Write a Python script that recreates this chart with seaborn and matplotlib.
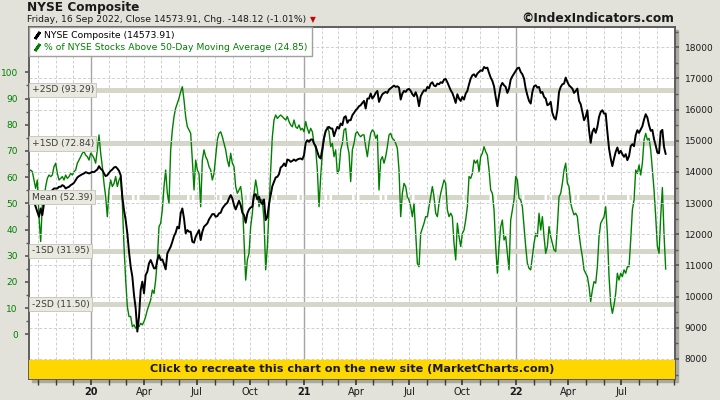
import pandas as pd
import matplotlib
matplotlib.use("Agg")
import matplotlib.pyplot as plt
import matplotlib.dates as mdates
import matplotlib.transforms as mtransforms
from matplotlib.lines import Line2D
from matplotlib.patches import Rectangle
from matplotlib.ticker import MultipleLocator, FixedLocator
import seaborn as sns

sns.set_theme(style="white")
plt.rcParams['font.family'] = ['DejaVu Sans']

# ---------------------------
# data
# ---------------------------
start_date = "2019-09-16"
end_date = "2022-09-16"

nyse_close = [
    13204, 13098, 13151, 13044, 12884, 12724, 12563, 12830, 12617, 12991,
    13098, 13204, 13364, 13364, 13418, 13471, 13471, 13471, 13525, 13525,
    13578, 13546, 13471, 13503, 13525, 13578, 13610, 13653, 13738, 13824,
    13866, 13898, 13930, 13952, 13994, 13973, 13952, 13973, 14005, 13994,
    14037, 14080, 14187, 14101, 14058, 13952, 13866, 13898, 13973, 14037,
    14080, 14144, 14165, 14112, 14037, 13898, 13204, 12777, 12457, 12030,
    11442, 10961, 10641, 10054, 9626, 8879, 9359, 10214, 10481, 10107,
    10695, 10801, 11068, 11175, 11047, 10908, 10908, 11175, 11335, 11175,
    11196, 11047, 10876, 11389, 11495, 11602, 11762, 11944, 12051, 12243,
    12190, 12670, 12830, 12510, 12030, 12136, 12083, 12083, 11762, 11730,
    11922, 12030, 12136,
    11816, 12083, 12243, 12296, 12350, 12478, 12563, 12649, 12649, 12563,
    12585, 12670, 12692, 12830, 12905, 12969, 13012, 13151, 13258, 13151,
    12937, 12798, 12937, 13076, 12937, 12692, 12617, 12371, 12670, 12798,
    12862, 12884, 13258, 13290, 13119, 13204, 13044, 12969, 13119, 12457,
    12563, 12969, 13258, 13546, 13685, 13824, 13845, 13930,
    14144, 14187, 14272, 14187, 14400, 14379, 14325, 14357, 14400, 14357,
    14400, 14422, 14432, 14400, 14539, 14934, 15020, 14966, 15041, 15041,
    14913, 14827, 14646, 14486, 14432, 14753, 15105, 15319, 15394, 15447,
    15394, 15394, 15148, 15319, 15447, 15394, 15554, 15500, 15746, 15789,
    15575, 15661, 15661, 15821, 15896, 15981, 16034, 16109, 16141, 16216,
    16280, 16034, 16355, 16355, 16515, 16355, 16430, 16536, 16600, 16248,
    16387, 16494, 16536, 16568, 16536, 16643, 16686, 16728, 16771, 16728,
    16750, 16707, 16323, 16515, 16600, 16568, 16643, 16664, 16600, 16494,
    16430, 16558, 16408, 16109, 16430, 16536, 16622, 16600, 16728, 16686,
    16835, 16878, 16771, 16750, 16835, 16814, 16878, 16857, 16964, 16985,
    16878, 16750, 16622, 16536, 16387, 16216, 16494, 16355, 16280, 16408,
    16323, 16515, 16600, 16814,
    16996, 17102, 17134, 17049, 17156, 17209, 17263, 17241, 17369, 17327,
    17348, 17177, 17028, 16921, 16750, 16408, 16109, 16462, 16750, 16857,
    16782, 16728, 16536, 16675, 16964, 17070, 17156, 17241, 17327, 17348,
    17209, 17134, 16996, 16675, 16462, 16280, 16195, 16568, 16750, 16782,
    16707, 16728, 16536, 16568, 16408, 16355, 16141, 16173, 16248, 15896,
    15746, 15682, 15981, 16568, 16728, 16814, 16835, 17028, 16889, 16782,
    16728, 16675, 16536, 16600, 16675, 16280, 16173, 15927, 15661, 15767,
    15981, 15340, 14934, 15287, 15394, 15255, 15447, 15767, 15927, 15981,
    15874, 15874, 15287, 14753, 14432, 14187, 14432, 14646, 14785, 14593,
    14678, 14571, 14486, 14571, 14379, 14507, 14827, 14892, 14827, 15180,
    15340, 15255, 15362, 15468, 15682, 15853, 15746, 15500, 15319, 15350,
    15050, 14850, 14620, 14600,
    15300, 15350, 14800, 14573.91,
]

pct_above_50dma = [
    62.1, 62.7, 62.1, 58.9, 55.7, 58.9, 44.9, 35.4, 50.0, 51.3,
    56.4, 59.5, 60.8, 60.2, 60.8, 64.0, 65.3, 61.4, 58.9, 59.5,
    60.2, 58.9, 60.8, 59.5, 60.2, 61.4, 60.8, 62.1, 62.7, 65.3,
    66.5, 67.8, 69.1, 69.7, 68.4, 67.8, 66.5, 69.1, 68.4, 67.2,
    65.3, 70.4, 76.1, 69.1, 64.0, 57.6, 52.5, 44.9, 55.1, 58.9,
    56.4, 57.6, 60.2, 56.4, 58.9, 60.2, 50.0, 33.5, 20.7, 10.6,
    6.8, 6.8, 2.9, 3.6, 2.3, 2.9, 2.9, 4.2, 3.6, 4.9,
    6.8, 9.3, 11.2, 13.1, 16.9, 15.6, 20.7, 28.4, 41.1, 42.4,
    47.5, 56.4, 62.7, 53.8, 50.0, 70.4, 78.0, 83.1, 86.3, 88.2,
    90.1, 92.6, 94.5, 89.4, 83.1, 79.2, 78.0, 76.7, 66.5, 55.1,
    66.5, 62.7, 61.4,
    48.7, 66.5, 70.4, 67.8, 66.5, 64.0, 62.7, 58.9, 61.4, 67.8,
    74.2, 76.7, 77.3, 75.4, 72.9, 70.4, 66.5, 64.0, 69.1, 65.3,
    64.0, 56.4, 53.8, 55.1, 56.4, 51.3, 36.0, 20.7, 28.4, 30.9,
    41.1, 46.2, 53.8, 58.9, 55.1, 48.7, 51.3, 51.3, 43.6, 24.6,
    33.5, 47.5, 62.7, 75.4, 81.8, 83.7, 82.4, 83.1,
    83.7, 83.1, 82.4, 81.8, 83.1, 81.2, 79.9, 79.2, 81.8, 79.2,
    78.6, 79.9, 78.0, 78.6, 77.3, 81.2, 78.6, 76.7, 78.6, 77.3,
    72.9, 71.0, 62.7, 48.7, 60.2, 69.1, 74.2, 77.3, 79.2, 77.3,
    71.6, 72.9, 67.8, 70.4, 61.4, 62.7, 70.4, 72.9, 78.0, 78.6,
    72.3, 69.1, 58.3, 70.4, 72.9, 76.7, 77.3, 76.1, 75.4, 76.1,
    76.1, 71.6, 67.8, 72.9, 76.7, 78.0, 77.3, 74.8, 76.1, 55.1,
    66.5, 67.8, 65.3, 67.8, 71.6, 76.1, 76.7, 74.8, 74.2, 72.9,
    71.0, 62.7, 44.9, 53.8, 57.6, 56.4, 52.5, 51.3, 48.7, 44.9,
    50.0, 38.5, 27.1, 25.8, 38.5, 40.5, 42.4, 44.9, 44.9, 48.7,
    52.5, 56.4, 52.5, 46.2, 44.9, 50.0, 53.8, 56.4, 58.9, 57.6,
    47.5, 44.9, 46.2, 44.9, 34.7, 28.4, 42.4, 37.3, 33.5, 38.5,
    39.8, 43.6, 48.7, 60.2,
    59.5, 61.4, 66.5, 65.3, 66.5, 62.1, 67.8, 69.1, 71.6, 69.7,
    68.4, 62.7, 55.1, 53.8, 47.5, 33.5, 23.3, 33.5, 41.1, 43.6,
    36.0, 37.3, 30.9, 24.6, 43.6, 47.5, 51.3, 60.2, 58.9, 51.9,
    51.3, 48.7, 41.1, 33.5, 27.1, 25.2, 24.6, 29.6, 34.7, 38.5,
    37.3, 46.2, 39.8, 44.9, 37.3, 30.9, 33.5, 41.1, 37.3, 34.7,
    32.2, 31.6, 41.1, 52.5, 53.8, 57.6, 62.7, 65.3, 57.6, 56.4,
    50.0, 47.5, 45.6, 46.2, 44.9, 38.5, 33.5, 29.6, 24.6, 23.3,
    22.0, 18.2, 12.5, 16.9, 20.1, 19.5, 25.8, 37.3, 42.4, 43.6,
    44.9, 48.7, 38.5, 22.0, 11.8, 8.0, 11.2, 15.6, 23.3, 20.7,
    23.3, 22.0, 24.6, 23.3, 25.8, 25.8, 36.0, 47.5, 51.3, 62.7,
    61.4, 64.6, 60.8, 65.3, 74.2, 76.7, 74.2, 74.8, 70.4, 62.7,
    55.1, 44.9, 33.5, 30.9,
    45.0, 56.0, 38.0, 24.85,
]

band_values = [93.29, 72.84, 52.39, 31.95, 11.50]
band_labels = ["+2SD (93.29)", "+1SD (72.84)", "Mean (52.39)", "-1SD (31.95)", "-2SD (11.50)"]

quarter_ticks = ["2020-01-01", "2020-04-01", "2020-07-01", "2020-10-01",
                 "2021-01-01", "2021-04-01", "2021-07-01", "2021-10-01",
                 "2022-01-01", "2022-04-01", "2022-07-01"]
quarter_labels = ["20", "Apr", "Jul", "Oct", "21", "Apr", "Jul", "Oct", "22", "Apr", "Jul"]

df = pd.DataFrame({
    "date": pd.date_range(start_date, end_date, periods=len(nyse_close)),
    "nyse": nyse_close,
    "pct": pct_above_50dma,
})

# ---------------------------
# figure
# ---------------------------
fig = plt.figure(figsize=(7.2, 4.0), dpi=100, facecolor="#e2e2da")
ax = fig.add_axes([29 / 720, 21 / 400, 646 / 720, 352 / 400])
ax.set_facecolor("white")
ax2 = ax.twinx()

# drop shadow of the plot frame
fig.patches.append(Rectangle((32 / 720, 18 / 400), 646 / 720, 352 / 400,
                             transform=fig.transFigure, color="#a9a9a1", zorder=-1))

sns.lineplot(data=df, x="date", y="pct", ax=ax, color="#008000", lw=1.0, zorder=3)
sns.lineplot(data=df, x="date", y="nyse", ax=ax2, color="black", lw=1.4, zorder=3)

ax.set_xlim(pd.Timestamp("2019-09-16"), pd.Timestamp("2022-10-02"))
ax.set_ylim(-17.06, 117.29)
ax2.set_ylim(7358, 18651)
for a in (ax, ax2):
    a.set_xlabel("")
    a.set_ylabel("")

# SD bands
band_tr = mtransforms.blended_transform_factory(ax.transAxes, ax.transData)
for v, lab in zip(band_values, band_labels):
    if lab.startswith("Mean"):
        ax.axhline(v, color="#d6d6cb", lw=3.6, dashes=(4, 0.5, 0.5, 0.5), zorder=1)
    else:
        ax.axhline(v, color="#d6d6cb", lw=3.6, zorder=1)
    ax2.text(0.004, v, lab, transform=band_tr, ha="left", va="center",
             fontsize=6.6, color="#3c3c3c", zorder=6,
             bbox=dict(boxstyle="square,pad=0.28", fc="#e9e9df", ec="#c4c4bc", lw=0.6))

# grid: months dashed, years solid, NYSE levels dashed
ax.set_axisbelow(True)
ax.set_xticks(pd.to_datetime(quarter_ticks), quarter_labels)
ax.xaxis.set_minor_locator(mdates.MonthLocator())
ax.grid(True, axis="x", which="both", ls=(0, (3, 2)), color="#cfcfcf", lw=0.7)
for t, lab in zip(quarter_ticks, quarter_labels):
    if lab.isdigit():
        ax.axvline(pd.Timestamp(t), color="#a5a5a5", lw=1.0, zorder=0.8)
ax2.yaxis.set_major_locator(MultipleLocator(1000))
ax2.yaxis.set_minor_locator(MultipleLocator(500))
ax2.grid(True, axis="y", which="major", ls=(0, (3, 2)), color="#cfcfcf", lw=0.7)
ax2.set_axisbelow(True)

# ticks
ax.yaxis.set_major_locator(FixedLocator(list(range(0, 101, 10))))
ax.yaxis.set_minor_locator(FixedLocator(list(range(5, 100, 10))))
ax.tick_params(axis="y", which="both", left=True, direction="out", color="#5a5a5a",
               labelcolor="#008000", labelsize=6.5, pad=5)
ax.tick_params(axis="y", which="major", length=3)
ax.tick_params(axis="y", which="minor", length=2)
ax.tick_params(axis="x", which="both", bottom=True, direction="out", length=4,
               color="#3a3a3a", labelsize=7, pad=2, labelcolor="#1a1a1a")
for t in ax.get_xticklabels():
    if t.get_text().isdigit():
        t.set_fontweight("bold")
ax2.tick_params(axis="y", which="both", right=True, direction="out", color="#5a5a5a",
                labelsize=6.5, labelcolor="#1a1a1a", pad=4)
ax2.tick_params(axis="y", which="major", length=3)
ax2.tick_params(axis="y", which="minor", length=2)

for a in (ax, ax2):
    for s in a.spines.values():
        s.set_color("#5a5a5a")
        s.set_linewidth(1.1)

# yellow banner
ax2.add_patch(Rectangle((0, 0), 1, 19 / 352, transform=ax2.transAxes,
                        color="#ffd700", zorder=8))
ax2.text(0.5, 9.5 / 352, "Click to recreate this chart on the new site (MarketCharts.com)",
         transform=ax2.transAxes, ha="center", va="center", fontsize=8.1,
         fontweight="bold", color="#1a1a1a", zorder=9)

# legend
handles = [
    Line2D([], [], color="black", lw=0, marker=(2, 2, -35), markersize=6, markeredgewidth=2),
    Line2D([], [], color="#008000", lw=0, marker=(2, 2, -35), markersize=6, markeredgewidth=2),
]
leg = ax2.legend(handles, ["NYSE Composite (14573.91)",
                           "% of NYSE Stocks Above 50-Day Moving Average (24.85)"],
                 loc="upper left", bbox_to_anchor=(0, 1), borderaxespad=0,
                 fontsize=6.7, frameon=True, fancybox=False, framealpha=1,
                 edgecolor="#a0a0a0", handlelength=0.8, handletextpad=0.4,
                 borderpad=0.45, labelspacing=0.3)
leg.set_zorder(10)
leg.get_texts()[0].set_color("black")
leg.get_texts()[1].set_color("#008000")

# header texts
fig.text(27 / 720, 1 - 8 / 400, "NYSE Composite", fontsize=8.7, fontweight="bold",
         va="center", ha="left", color="#1a1a1a")
sub = fig.text(27 / 720, 1 - 19.5 / 400,
               "Friday, 16 Sep 2022, Close 14573.91, Chg. -148.12 (-1.01%)",
               fontsize=6.7, va="center", ha="left", color="#1a1a1a")
ax.annotate("\u25BC", xy=(1, 0.5), xycoords=sub, xytext=(3, 0), textcoords="offset points",
            va="center", ha="left", color="#cc0000", fontsize=5.5, annotation_clip=False)
fig.text(674 / 720, 1 - 19 / 400, "\u00A9IndexIndicators.com", fontsize=8.8, fontweight="bold",
         va="center", ha="right", color="#1a1a1a")

fig.savefig("out.png", dpi=100, facecolor=fig.get_facecolor())
